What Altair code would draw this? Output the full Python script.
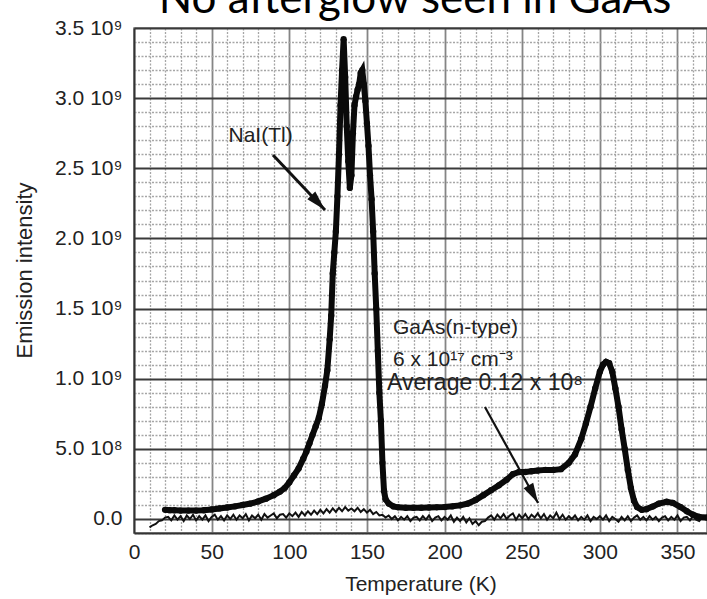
import altair as alt
import pandas as pd

TITLE = "No afterglow seen in GaAs"

# NaI(Tl) glow curve (intensity in units of 1e9)
nai_T = [20, 23, 26, 30, 35, 40, 45, 50, 55, 60,
         65, 70, 75, 80, 85, 90, 94, 97, 100, 103,
         106, 109, 111, 113, 115, 117, 119, 121, 123, 124.5,
         126, 127, 128, 129, 130, 131, 132, 133, 134, 135,
         136, 137, 138, 139, 140, 141, 142, 143, 144, 145,
         146, 147, 148, 149, 150, 151, 152, 153, 154, 155,
         156, 157, 158, 159, 160, 161, 162, 164, 167, 170,
         175, 180, 185, 190, 195, 200, 205, 210, 215, 220,
         225, 230, 235, 240, 244, 248, 252, 256, 260, 265,
         270, 275, 280, 284, 288, 291, 294, 297, 300, 302,
         304, 306, 308, 310, 312, 314, 316, 318, 320, 322,
         324, 327, 330, 334, 338, 343, 347, 352, 356, 360,
         364, 369]
nai_V = [0.065, 0.063, 0.062, 0.060, 0.060, 0.060, 0.062, 0.068, 0.075, 0.082,
         0.090, 0.100, 0.110, 0.125, 0.145, 0.170, 0.195, 0.220, 0.260, 0.310,
         0.360, 0.430, 0.480, 0.540, 0.600, 0.660, 0.720, 0.820, 0.950, 1.060,
         1.280, 1.450, 1.750, 1.900, 2.050, 2.300, 2.600, 2.950, 3.200, 3.420,
         3.150, 2.800, 2.550, 2.360, 2.450, 2.750, 2.950, 3.010, 3.060, 3.100,
         3.180, 3.200, 3.100, 2.980, 2.820, 2.660, 2.450, 2.280, 2.050, 1.750,
         1.500, 1.200, 0.900, 0.700, 0.400, 0.200, 0.140, 0.110, 0.090, 0.083,
         0.080, 0.080, 0.080, 0.082, 0.083, 0.085, 0.090, 0.097, 0.110, 0.135,
         0.170, 0.205, 0.240, 0.280, 0.320, 0.335, 0.335, 0.340, 0.345, 0.350,
         0.350, 0.355, 0.400, 0.460, 0.570, 0.680, 0.800, 0.930, 1.050, 1.100,
         1.120, 1.110, 1.050, 0.930, 0.800, 0.640, 0.500, 0.350, 0.220, 0.130,
         0.085, 0.065, 0.070, 0.088, 0.110, 0.123, 0.115, 0.085, 0.055, 0.030,
         0.015, 0.010]

# GaAs(n-type) curve, sampled every 2 K from 10 K to 368 K (units of 1e9)
gaas_T = list(range(10, 369, 2))
gaas_V = [-0.060, -0.045, -0.035, -0.015, -0.010, 0.010,
          0.015, -0.010, 0.025, -0.005, 0.020, -0.015, 0.025, 0.000, 0.030, -0.010,
          0.020, -0.005, 0.025, -0.015, 0.015, 0.030, -0.005, 0.020, -0.010, 0.025,
          0.000, 0.030, -0.005, 0.025, 0.005, 0.035, -0.010, 0.025, 0.005, 0.030,
          -0.005, 0.035, 0.010, 0.025, 0.040, 0.005, 0.030, 0.035, 0.010, 0.040,
          0.020, 0.045, 0.015, 0.050, 0.025, 0.055, 0.030, 0.060, 0.035, 0.065,
          0.040, 0.070, 0.045, 0.075, 0.050, 0.080, 0.055, 0.085, 0.060, 0.075,
          0.055, 0.080, 0.050, 0.070, 0.045, 0.065, 0.035, 0.050, 0.025, 0.030,
          0.010, 0.025, 0.000, 0.020, -0.010, 0.015, -0.005, 0.020, -0.015, 0.010,
          0.015, -0.010, 0.020, -0.005, 0.025, -0.015, 0.010, 0.020, -0.010, 0.015,
          -0.005, 0.025, -0.020, 0.010, -0.015, 0.015, -0.025, 0.005, -0.035, -0.015,
          -0.045, -0.020, -0.015, 0.010, 0.025, -0.005, 0.030, 0.005, 0.035, 0.000,
          0.025, 0.040, -0.005, 0.030, 0.005, 0.035, 0.000, 0.030, 0.010, 0.040,
          0.005, 0.035, -0.005, 0.025, 0.005, 0.045, 0.000, 0.030, -0.005, 0.020,
          0.000, 0.025, -0.010, 0.015, -0.005, 0.025, -0.015, 0.015, 0.000, 0.020,
          -0.005, 0.025, -0.015, 0.015, 0.000, -0.020, 0.015, -0.010, 0.020, -0.015,
          0.010, 0.025, -0.005, 0.015, -0.010, 0.020, -0.005, 0.015, -0.015, 0.010,
          0.020, -0.010, 0.015, -0.005, 0.025, -0.015, 0.010, 0.015, -0.010, 0.020,
          -0.005, -0.015, 0.015, 0.000]

x_ticks = list(range(0, 370, 10))
y_ticks = [round(i * 0.1, 1) for i in range(-1, 36)]

# annotations
nai_label = ["NaI(Tl)"]
nai_label_T = [81.5]
nai_label_V = [2.73]
gaas_label = ["GaAs(n-type)", "6 x 10\u00b9\u2077  cm\u207b\u00b3", "Average 0.12 x 10\u2078"]
gaas_label_T = [166.8, 166.8, 162.9]
gaas_label_V = [1.36, 1.135, 0.97]
gaas_label_size = [21, 21, 23]

arrow_T0 = [89.5, 226.0]
arrow_V0 = [2.595, 0.798]
arrow_T1 = [123.0, 260.2]
arrow_V1 = [2.203, 0.114]
arrow_w = [3.0, 2.2]
head_T = [118.6, 257.1]
head_V = [2.255, 0.176]
head_angle = [136.6, 151.0]

nai = pd.DataFrame({"T": nai_T, "V": nai_V})
gaas = pd.DataFrame({"T": gaas_T, "V": gaas_V})
lab1 = pd.DataFrame({"T": nai_label_T, "V": nai_label_V, "text": nai_label})
lab2 = pd.DataFrame({"T": gaas_label_T, "V": gaas_label_V, "text": gaas_label, "size": gaas_label_size})
arrows = pd.DataFrame({"T": arrow_T0, "V": arrow_V0, "T1": arrow_T1, "V1": arrow_V1, "w": arrow_w})
heads = pd.DataFrame({"T": head_T, "V": head_V, "angle": head_angle})

FONT = "Liberation Sans"
MAJOR_X = "datum.value % 50 === 0"
MAJOR_Y = "abs(datum.value*2 - round(datum.value*2)) < 0.001"

x_enc = alt.X(
    "T:Q",
    scale=alt.Scale(domain=[0, 369], nice=False, zero=False),
    axis=alt.Axis(
        values=x_ticks,
        labelExpr=f"{MAJOR_X} ? datum.label : ''",
        labelFontSize=21, labelFont=FONT, labelColor="#222",
        labelPadding=8, labelFlush=False, labelOverlap=False, labelBound=False,
        ticks=False, domainColor="#333", domainWidth=1.8,
        grid=True,
        gridDash={"condition": {"test": MAJOR_X, "value": []}, "value": [2, 1.5]},
        gridColor={"condition": {"test": MAJOR_X, "value": "#858585"}, "value": "#a6a6a6"},
        gridWidth={"condition": {"test": MAJOR_X, "value": 1.8}, "value": 1.3},
        title="Temperature (K)", titleFont=FONT, titleFontSize=21,
        titleFontWeight="normal", titleColor="#222",
        titleY=51, titleBaseline="middle",
    ),
)
y_enc = alt.Y(
    "V:Q",
    scale=alt.Scale(domain=[-0.1, 3.5], nice=False, zero=False),
    axis=alt.Axis(
        values=y_ticks,
        labelExpr=(f"{MAJOR_Y} ? (abs(datum.value) < 0.001 ? '0.0' : "
                   "(datum.value < 0.9 ? format(datum.value*10, '.1f') + ' 10\u2078' : "
                   "format(datum.value, '.1f') + ' 10\u2079')) : ''"),
        labelFontSize=21, labelFont=FONT, labelColor="#222",
        labelPadding=12, labelFlush=False, labelOverlap=False, labelBound=False,
        ticks=False, domainColor="#333", domainWidth=1.8,
        grid=True,
        gridDash={"condition": {"test": MAJOR_Y, "value": []}, "value": [2, 1.5]},
        gridColor={"condition": {"test": MAJOR_Y, "value": "#3a3a3a"}, "value": "#a6a6a6"},
        gridWidth={"condition": {"test": MAJOR_Y, "value": 1.8}, "value": 1.3},
        title="Emission intensity", titleFont=FONT, titleFontSize=22,
        titleFontWeight="normal", titleColor="#222",
        titleX=-110, titleY=242, titleAngle=270, titleBaseline="middle",
    ),
)

gaas_line = alt.Chart(gaas).mark_line(color="#111", strokeWidth=2, clip=True).encode(x=x_enc, y=y_enc)
nai_line = alt.Chart(nai).mark_line(color="#0a0a0a", strokeWidth=6, clip=True).encode(x=x_enc, y=y_enc)
nai_pts = alt.Chart(nai).mark_point(filled=True, color="#0a0a0a", size=40, opacity=1, clip=True).encode(x=x_enc, y=y_enc)

arrow_lines = alt.Chart(arrows).mark_rule(color="#111").encode(
    x=x_enc, y=y_enc, x2="T1:Q", y2="V1:Q",
    strokeWidth=alt.StrokeWidth("w:Q", scale=None, legend=None),
)
arrow_heads = alt.Chart(heads).mark_point(
    shape="M0,-1L0.55,1L-0.55,1Z", filled=True, color="#111", size=400, opacity=1
).encode(x=x_enc, y=y_enc, angle=alt.Angle("angle:Q", scale=None, legend=None))

text1 = alt.Chart(lab1).mark_text(font=FONT, color="#222", baseline="middle", align="center", fontSize=21).encode(
    x=x_enc, y=y_enc, text="text:N")
text2 = alt.Chart(lab2).mark_text(font=FONT, color="#222", baseline="middle", align="left").encode(
    x=x_enc, y=y_enc, text="text:N",
    size=alt.Size("size:Q", scale=None, legend=None))

title = alt.Chart(pd.DataFrame({"t": [TITLE]})).mark_text(
    font="Lato", fontSize=44, color="#000", align="center", baseline="alphabetic"
).encode(x=alt.value(281), y=alt.value(-15), text="t:N")

chart = alt.layer(gaas_line, nai_line, nai_pts, arrow_lines, arrow_heads, text1, text2, title).properties(
    width=573, height=505,
    padding={"left": 134, "top": 28, "right": 0, "bottom": 66},
    autosize=alt.AutoSizeParams(type="none"),
    background="white",
).configure_view(stroke="#777", strokeWidth=1.5)

chart.save("out.html", embed_options={"renderer": "svg", "actions": False})
